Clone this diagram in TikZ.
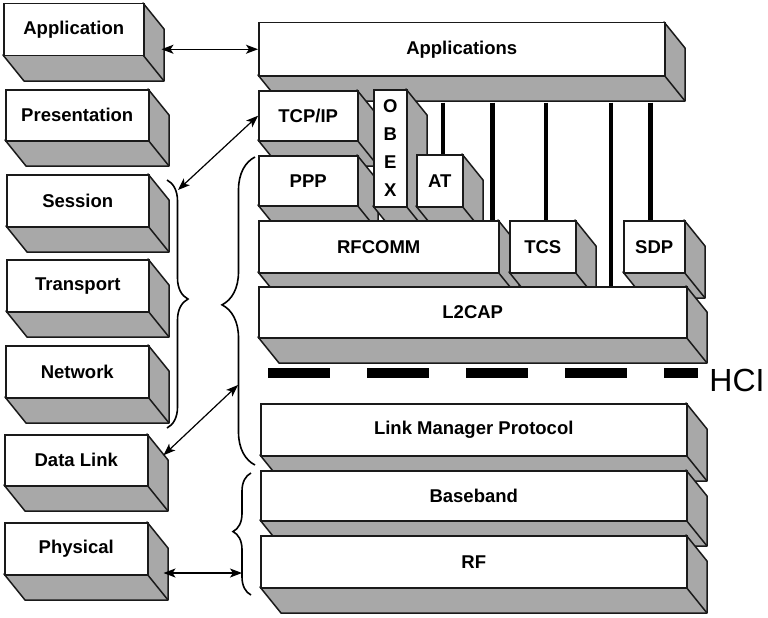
\documentclass[tikz,border=0pt]{standalone}
\usepackage{fontspec}
\setmainfont{Liberation Sans}
\usetikzlibrary{arrows.meta,calc,decorations.pathreplacing}
\definecolor{slabgray}{HTML}{A8A8A8}
\definecolor{slabline}{HTML}{1A1A1A}
\tikzset{
  slabface/.style={draw=slabline, line width=1.5pt, fill=white, anchor=north west,
    inner sep=0pt, align=center, font=\fontsize{18.5}{28}\selectfont\bfseries},
  slabside/.style={draw=slabline, line width=1.5pt, fill=slabgray, line join=round},
  slabedge/.style={draw=slabline, line width=1.5pt},
  link/.style={line width=1.2pt, {Stealth[length=12pt,width=9pt,inset=3pt]}-{Stealth[length=12pt,width=9pt,inset=3pt]}},
  tie/.style={line width=4.5pt},
  curly/.style 2 args={line width=1.6pt, decorate, decoration={brace, amplitude=#1, aspect=#2}},
  hcibar/.style={line width=10pt, dash pattern=on 62pt off 37pt},
  hcilabel/.style={inner sep=0pt, font=\fontsize{32}{32}\selectfont}
}
\begin{document}
\begin{tikzpicture}[x=1pt, y=-1pt]
  \useasboundingbox (0,0) rectangle (768,618);
  % Define depth of the slabs
  \def\depthx{21}
  \def\depthy{26}
  % Define a slab: name, left, top, right, bottom, label
  \def\slab#1#2#3#4#5#6{
    \filldraw[slabside] (#4,#3) -- ++(\depthx,\depthy) -- (#4+\depthx,#5+\depthy)
      -- (#2+\depthx,#5+\depthy) -- (#2,#5) -- (#4,#5) -- cycle;
    \draw[slabedge] (#4,#5) -- ++(\depthx,\depthy);
    \node[slabface, minimum width=#4-#2, minimum height=#5-#3] (#1) at (#2,#3) {#6};
  }

  % OSI layers
  \slab{application}{3}{3}{143}{55}{Application}
  \slab{presentation}{5}{89}{148}{140}{Presentation}
  \slab{session}{6}{174}{148}{226}{Session}
  \slab{transport}{6}{259}{148}{311}{Transport}
  \slab{network}{5}{345}{148}{397}{Network}
  \slab{datalink}{4}{434}{147}{485}{Data Link}
  \slab{physical}{4}{522}{147}{574}{Physical}

  % Bluetooth stack
  \slab{apps}{258}{22}{664}{75}{Applications}
  \slab{tcpip}{258}{90}{357}{140}{TCP/IP}
  \slab{ppp}{258}{155}{357}{205}{PPP}
  \slab{obex}{373}{89}{406}{206}{O\\B\\E\\X}
  \slab{atcmd}{416}{154}{462}{206}{AT}
  \slab{rfcomm}{258}{220}{498}{272}{RFCOMM}
  \slab{tcs}{509}{220}{575}{272}{TCS}
  \slab{sdp}{623}{220}{684}{272}{SDP}
  \slab{l2cap}{258}{286}{686}{337}{L2CAP}
  \slab{lmp}{260}{403}{686}{455}{Link Manager Protocol}
  \slab{baseband}{260}{470}{686}{520}{Baseband}
  \slab{rf}{260}{535}{686}{587}{RF}

  % Host controller interface
  \draw[hcibar] (268,373) -- (698,373);
  \node[hcilabel] (hci) at (737,380) {HCI};

  % Ties from the applications down
  \coordinate (appsbase) at ($(apps.south)+(0,\depthy)$);
  \foreach \target/\shift in {atcmd.north/3, rfcomm.north east/-7, tcs.north/3,
      l2cap.north west/353, sdp.north/-4}{
    \path ([xshift=\shift pt]\target) coordinate (tieend);
    \draw[tie] (appsbase -| tieend) -- (tieend);
  }

  % Braces grouping the layers
  \draw[curly={21}{0.48}] (167,180) -- (167,428);
  \draw[curly={33}{0.52}] (255,465) -- (255,157);
  \draw[curly={18}{0.52}] (251,595) -- (251,473);
  \coordinate (ositop) at (178,190);
  \coordinate (hostmid) at (238,385);
  \coordinate (radiomid) at (242,573);

  % Arrows between the two stacks
  \draw[link] ($(application.east |- apps.west)+(17,0)$) -- (apps.west);
  \draw[link] (tcpip.west) -- (ositop);
  \draw[link] ($(datalink.east)+(15,-5)$) -- (hostmid);
  \draw[link] ($(physical.east |- radiomid)+(15,0)$) -- (radiomid);
\end{tikzpicture}
\end{document}
